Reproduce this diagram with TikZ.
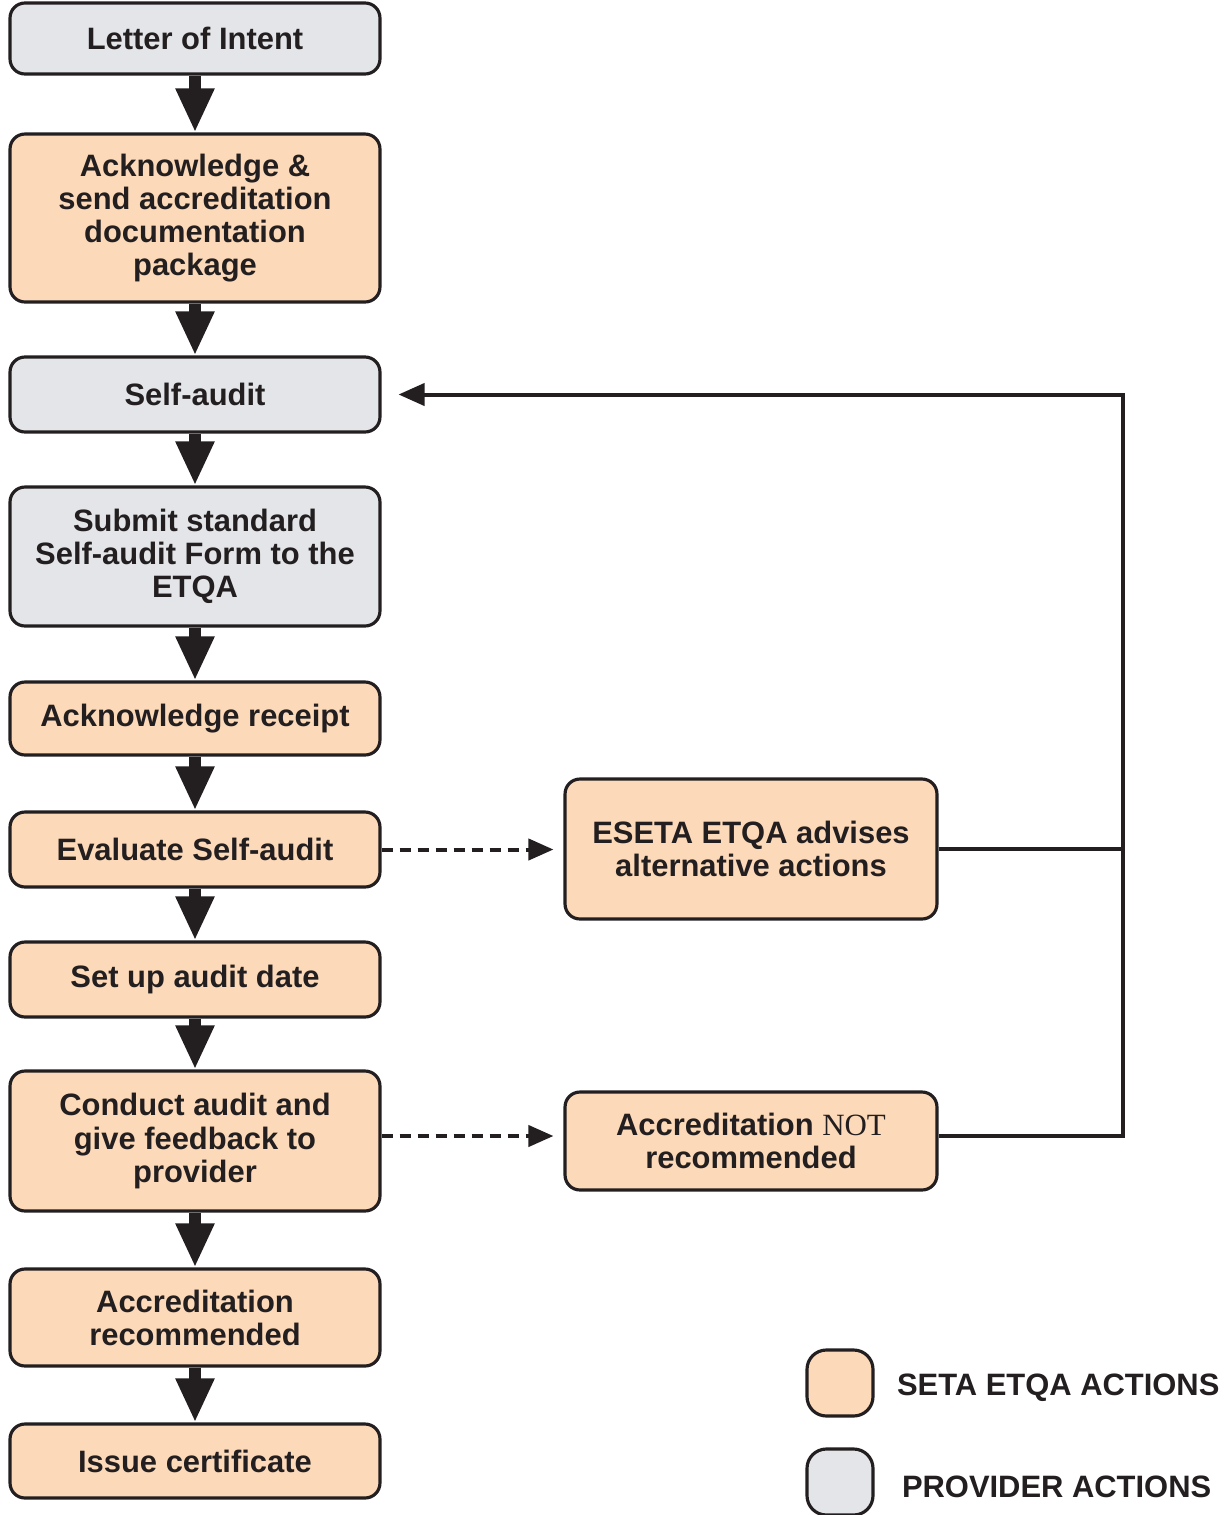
\documentclass[tikz,border=0pt]{standalone}
\usepackage{fontspec}
\setmainfont{Liberation Sans}
\newfontfamily\notfont{Liberation Serif}
\usetikzlibrary{arrows.meta, positioning}
\definecolor{cpeach}{HTML}{FCD9B8}
\definecolor{cgrey}{HTML}{E3E5E8}
\definecolor{cink}{HTML}{231F20}
\tikzset{
  every picture/.style={font=\fontsize{17.6}{18.8}\selectfont\bfseries, line width=1.8pt},
  box/.style={draw=cink, fill=#1, rounded corners=8.5pt, align=center, minimum width=7.4cm, inner sep=4pt, line width=1.8pt, text=cink},
  box/.default=cpeach,
  key/.style={box=#1, minimum width=1.32cm, minimum height=1.32cm, rounded corners=11pt},
  flow/.style={-{Triangle[length=0.88cm, width=0.72cm]}, draw=cink, line width=0.24cm},
  back/.style={-{Triangle[length=0.52cm, width=0.44cm]}, draw=cink, line width=0.08cm},
  dashflow/.style={-{Triangle[length=0.5cm, width=0.42cm]}, draw=cink, line width=0.08cm, dash pattern=on 0.22cm off 0.14cm},
  legend/.style={text=cink, anchor=west},
}

\begin{document}
\begin{tikzpicture}[x=0.02cm, y=-0.02cm]
  \useasboundingbox (0,0) rectangle (1224,1515);
  \node[box=cgrey, minimum height=1.42cm] (letter) at (195, 38.5) {Letter of Intent};
  \node[box, minimum height=3.36cm] (ack) at (195, 218) {Acknowledge \&\\send accreditation\\documentation\\package};
  \node[box=cgrey, minimum height=1.5cm] (selfaudit) at (195, 394.5) {Self-audit};
  \node[box=cgrey, minimum height=2.78cm] (submit) at (195, 556.5) {Submit standard\\Self-audit Form to the\\ETQA};
  \node[box, minimum height=1.46cm] (receipt) at (195, 718.5) {Acknowledge receipt};
  \node[box, minimum height=1.5cm] (evaluate) at (195, 849.5) {Evaluate Self-audit};
  \node[box, minimum height=1.5cm] (auditdate) at (195, 979.5) {Set up audit date};
  \node[box, minimum height=2.8cm] (conduct) at (195, 1141) {Conduct audit and\\give feedback to\\provider};
  \node[box, minimum height=1.94cm] (recommended) at (195, 1317.5) {Accreditation\\recommended};
  \node[box, minimum height=1.48cm] (certificate) at (195, 1461) {Issue certificate};
  \node[box, minimum width=7.44cm, minimum height=2.8cm] (advise) at (751, 849) {ESETA ETQA advises\\alternative actions};
  \node[box, minimum width=7.44cm, minimum height=1.96cm] (notrec) at (751, 1141) {Accreditation {\notfont\mdseries NOT}\\recommended};
  \coordinate (loop) at (1123, 394.5);
  \draw[flow] (letter) -- (ack); \draw[flow] (ack) -- (selfaudit);
  \draw[flow] (selfaudit) -- (submit); \draw[flow] (submit) -- (receipt);
  \draw[flow] (receipt) -- (evaluate); \draw[flow] (evaluate) -- (auditdate);
  \draw[flow] (auditdate) -- (conduct); \draw[flow] (conduct) -- (recommended);
  \draw[flow] (recommended) -- (certificate);
  \draw[dashflow, shorten >=0.2cm] (evaluate.east) -- (evaluate.east -| advise.west);
  \draw[dashflow, shorten >=0.2cm] ([yshift=0.1cm]conduct.east) -- ([yshift=0.1cm]notrec.west);
  \draw[back, shorten >=0.34cm] ([yshift=0.1cm]notrec.east) -| (loop) -- (selfaudit.east);
  \draw[draw=cink, line width=0.08cm] (advise.east) -- (advise.east -| loop);
  \node[key=cpeach] (keyseta) at (840, 1383) {};
  \node[legend, right=0.3cm of keyseta.east, yshift=-0.1cm] (labelseta) {SETA ETQA ACTIONS};
  \node[key=cgrey] (keyprov) at (840, 1482) {};
  \node[legend, right=0.4cm of keyprov.east, yshift=-0.1cm] (labelprov) {PROVIDER ACTIONS};
\end{tikzpicture}
\end{document}
